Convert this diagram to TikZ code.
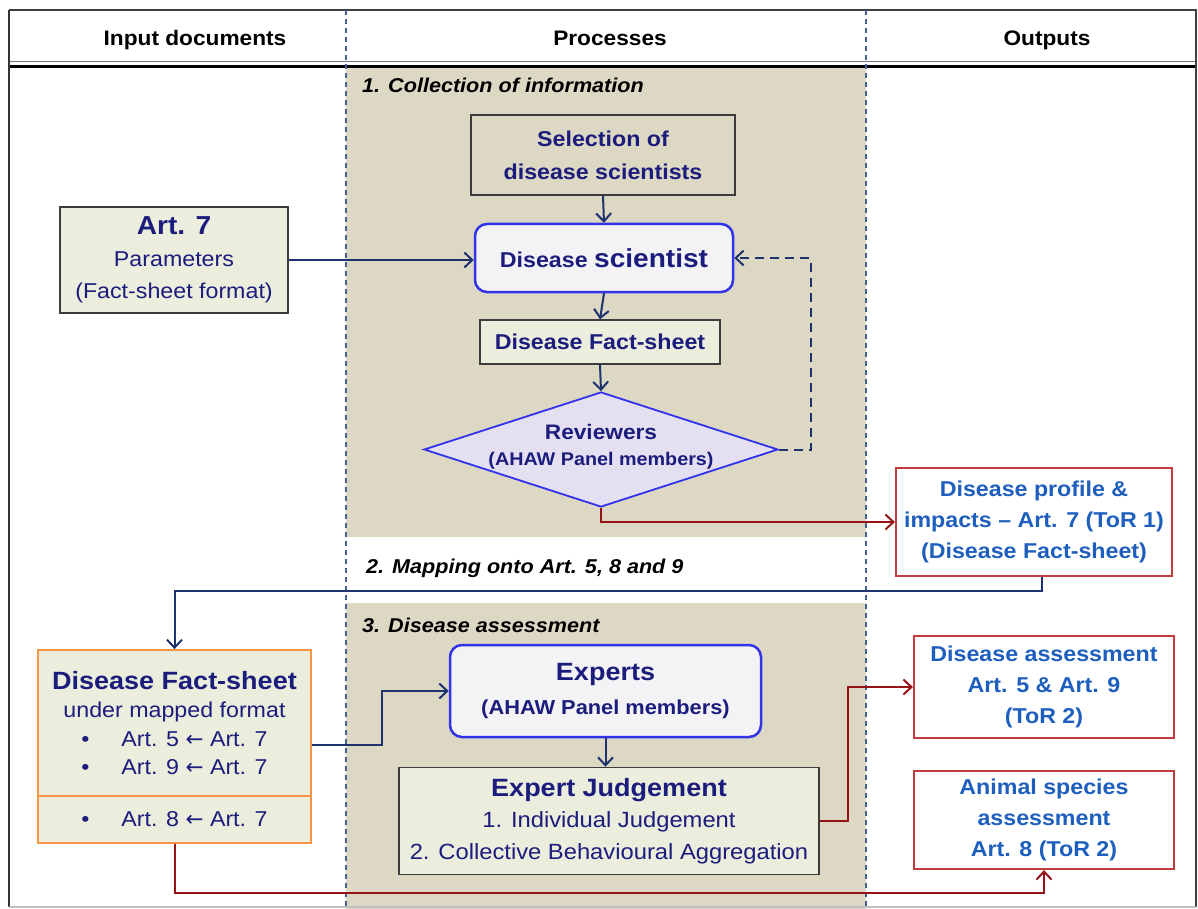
\documentclass[tikz,border=0pt]{standalone}
\usepackage{fontspec}
\setmainfont{Liberation Sans}[FakeStretch=1.08]
\newfontfamily\arrowfont{DejaVu Sans}
\usetikzlibrary{arrows.meta,shapes.geometric}
\definecolor{tanbg}{RGB}{221,216,196}
\definecolor{navy}{RGB}{28,28,125}
\definecolor{outblue}{RGB}{30,95,190}
\definecolor{redbd}{RGB}{196,60,62}
\definecolor{darkred}{RGB}{150,20,22}
\definecolor{conn}{RGB}{30,50,110}
\definecolor{brightblue}{RGB}{50,50,235}
\definecolor{greenfill}{RGB}{235,238,221}
\definecolor{lavender}{RGB}{228,224,242}
\definecolor{boxwhite}{RGB}{243,243,245}
\definecolor{orangebd}{RGB}{247,150,70}
\definecolor{dashcol}{RGB}{70,95,150}
\definecolor{boxgray}{RGB}{60,60,60}
\newcommand{\fsz}[2]{\fontsize{#1}{#2}\selectfont}
\newcommand{\larr}{{\arrowfont ←}}
\tikzset{
  basebox/.style={align=center, inner sep=0pt, text=navy, font=\fsz{21.5}{31}\bfseries},
  greybox/.style={basebox, draw=boxgray, line width=1.5pt},
  bluebox/.style={basebox, draw=brightblue, line width=2.5pt, fill=boxwhite, rounded corners=12pt},
  outbox/.style={align=center, inner sep=0pt, text=outblue, font=\fsz{21.5}{31}\bfseries, draw=redbd, line width=2.2pt, fill=white},
  navyarrow/.style={draw=conn, line width=2pt, -{Straight Barb[length=8pt,width=15pt,line width=2pt]}},
  redarrow/.style={draw=darkred, line width=2pt, -{Straight Barb[length=8pt,width=15pt,line width=2pt]}},
  colsep/.style={draw=dashcol, line width=1.2pt, dash pattern=on 5pt off 4pt},
  headtxt/.style={font=\fsz{21}{25}\bfseries, text=black, anchor=base, inner sep=0pt},
  sectxt/.style={font=\fsz{20}{24}\bfseries\itshape, text=black, anchor=base west, inner sep=0pt}
}
\begin{document}
\begin{tikzpicture}[x=1pt,y=-1pt]
\useasboundingbox (0,0) rectangle (1198,909);
% shaded sections
\fill[tanbg] (346,66) rectangle (866,537);
\fill[tanbg] (346,603) rectangle (866,909);
% frame
\draw[black!75, line width=1.5pt] (9,10) -- (1197,10);
\draw[black!55, line width=1pt] (9,62) -- (1197,62);
\draw[black, line width=3pt] (9,66.5) -- (1197,66.5);
\draw[black!80, line width=2.5pt] (9,10) -- (9,907);
\draw[black!75, line width=2pt] (1196,10) -- (1196,907);
\draw[black!25, line width=1.5pt] (9,907) -- (1196,907);
% column separators
\draw[colsep] (346,10) -- (346,909);
\draw[colsep] (866,10) -- (866,909);
% headers
\node[headtxt] (h1) at (195,46) {Input documents};
\node[headtxt] (h2) at (610,46) {Processes};
\node[headtxt] (h3) at (1047,46) {Outputs};
% section labels
\node[sectxt] (s1) at (362,93) {1. Collection of information};
\node[sectxt] (s2) at (366,573) {2. Mapping onto Art. 5, 8 and 9};
\node[sectxt] (s3) at (362,632) {3. Disease assessment};
% process 1 nodes
\node[greybox, fill=tanbg, minimum width=264pt, minimum height=80pt, font=\fsz{21.5}{33}\bfseries] (sel) at (603,155) {Selection of\\disease scientists};
\node[bluebox, minimum width=258pt, minimum height=68pt] (sci) at (604,258) {Disease {\fsz{26}{30}scientist}};
\node[greybox, fill=greenfill, minimum width=240pt, minimum height=44pt] (fsm) at (600,342) {Disease Fact-sheet};
\node[diamond, draw=brightblue, line width=1.8pt, fill=lavender, minimum width=354pt, minimum height=115pt, inner sep=0pt] (rev) at (601,449.5) {};
\node[align=center, inner sep=0pt, text=navy, font=\fsz{21}{28}\bfseries] (revtxt) at ([yshift=3pt]rev.center) {Reviewers\\[-2pt]{\fsz{18.3}{22}(AHAW Panel members)}};
% input art 7
\node[greybox, fill=greenfill, minimum width=228pt, minimum height=106pt, font=\fsz{21.5}{32}] (art7) at (174,260) {{\fsz{26}{32}\bfseries Art. 7}\\Parameters\\(Fact-sheet format)};
% output 1
\node[outbox, minimum width=276pt, minimum height=108pt] (prof) at (1034,522) {Disease profile \&\\impacts -- Art. 7 (ToR 1)\\(Disease Fact-sheet)};
% left disease fact-sheet
\node[basebox, draw=orangebd, line width=1.8pt, fill=greenfill, minimum width=273pt, minimum height=146pt, font=\fsz{21.5}{28.5}] (dfsA) at (174.5,723) {{\fsz{25}{30}\bfseries Disease Fact-sheet}\\under mapped format\\\textbullet\hspace{32pt}Art. 5 \larr\ Art. 7\\\textbullet\hspace{32pt}Art. 9 \larr\ Art. 7};
\node[basebox, draw=orangebd, line width=1.8pt, fill=greenfill, minimum width=273pt, minimum height=47pt, font=\fsz{21.5}{28}] (dfsB) at (174.5,819.5) {\textbullet\hspace{32pt}Art. 8 \larr\ Art. 7};
% process 3
\node[bluebox, minimum width=311pt, minimum height=92pt, font=\fsz{20.2}{34}\bfseries] (exp) at (605.5,691) {{\fsz{25}{30}Experts}\\(AHAW Panel members)};
\node[greybox, fill=greenfill, minimum width=420pt, minimum height=107pt, font=\fsz{22}{31.5}] (ej) at (609,821) {{\fsz{25}{30}\bfseries Expert Judgement}\\1. Individual Judgement\\2. Collective Behavioural Aggregation};
% outputs 2,3
\node[outbox, minimum width=260pt, minimum height=102pt] (da) at (1044,687) {Disease assessment\\Art. 5 \& Art. 9\\(ToR 2)};
\node[outbox, minimum width=260pt, minimum height=98pt] (as) at (1044,820) {Animal species\\assessment\\Art. 8 (ToR 2)};
% connectors
\draw[navyarrow] (art7.east) -- (art7.east -| sci.west);
\draw[navyarrow] (sel.south) -- (sci.north);
\draw[navyarrow] (sci.south) -- (fsm.north);
\draw[navyarrow] (fsm.south) -- (rev.north);
\draw[navyarrow, dash pattern=on 9pt off 6pt] (rev.east) -- ++(32,0) |- (sci.east);
\draw[redarrow] (rev.south) |- (prof.west);
\draw[navyarrow] ([xshift=8pt]prof.south) -- ++(0,14) -| (dfsA.north);
\draw[navyarrow] ([yshift=-22pt]dfsA.east) -- ++(70,0) |- (exp.west);
\draw[navyarrow] (exp.south) -- (exp.south |- ej.north);
\draw[redarrow] (ej.east) -- ++(28,0) |- (da.west);
\draw[redarrow] (dfsB.south) -- ++(0,49) -| (as.south);
\end{tikzpicture}
\end{document}
